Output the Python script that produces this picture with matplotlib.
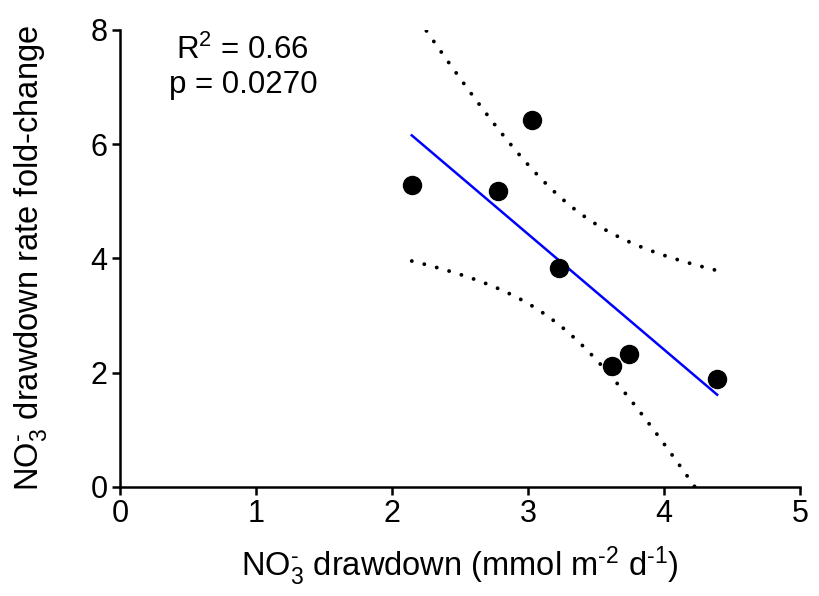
import numpy as np
import matplotlib
matplotlib.use('Agg')
import matplotlib.pyplot as plt

plt.rcParams['font.family'] = 'Liberation Sans'
plt.rcParams['mathtext.fontset'] = 'custom'
plt.rcParams['mathtext.rm'] = 'Liberation Sans'
plt.rcParams['mathtext.it'] = 'Liberation Sans:italic'

# data
drawdown = np.array([2.145, 2.78, 3.03, 3.23, 3.62, 3.74, 4.39])
fold_change = np.array([5.28, 5.18, 6.43, 3.84, 2.12, 2.33, 1.89])
r2_text = 'R$^2$ = 0.66'
p_text = 'p = 0.0270'
t_crit = 2.571  # t(0.975, df=5)

# linear fit + 95% confidence band of the mean
slope, intercept = np.polyfit(drawdown, fold_change, 1)
n = drawdown.size
xs = np.linspace(drawdown.min(), drawdown.max(), 200)
fit = slope * xs + intercept
resid = fold_change - (slope * drawdown + intercept)
s = np.sqrt(np.sum(resid ** 2) / (n - 2))
sxx = np.sum((drawdown - drawdown.mean()) ** 2)
half = t_crit * s * np.sqrt(1.0 / n + (xs - drawdown.mean()) ** 2 / sxx)

fig = plt.figure(figsize=(8.19, 5.96), dpi=100)
ax = fig.add_axes([0.1465, 0.1829, 0.8305, 0.7668])

dot = (0, (0.01, 3.3))
ax.plot(xs, fit + half, color='black', lw=2.8, linestyle=dot, dash_capstyle='round')
ax.plot(xs, fit - half, color='black', lw=2.8, linestyle=dot, dash_capstyle='round')
ax.plot(xs, fit, color='#0000ff', lw=1.8)
ax.plot(drawdown, fold_change, 'o', color='black', markersize=13, zorder=5)

ax.set_xlim(0, 5)
ax.set_ylim(0, 8)
ax.set_xticks(range(0, 6))
ax.set_yticks(range(0, 9, 2))
for side in ['top', 'right']:
    ax.spines[side].set_visible(False)
for side in ['left', 'bottom']:
    ax.spines[side].set_linewidth(1.8)
ax.tick_params(width=1.8, length=6, labelsize=22, pad=3)

ax.set_xlabel(r'NO$_3^{\text{-}}$ drawdown (mmol m$^{\text{-2}}$ d$^{\text{-1}}$)', fontsize=23.5)
ax.set_ylabel(r'NO$_3^{\text{-}}$ drawdown rate fold-change', fontsize=23.5)
ax.xaxis.set_label_coords(0.5, -0.125)
ax.yaxis.set_label_coords(-0.104, 0.5)

ax.text(0.904, 7.65, r2_text, ha='center', va='center', fontsize=22.5)
ax.text(0.904, 7.04, p_text, ha='center', va='center', fontsize=22.5)

fig.savefig('out.png', dpi=100)
